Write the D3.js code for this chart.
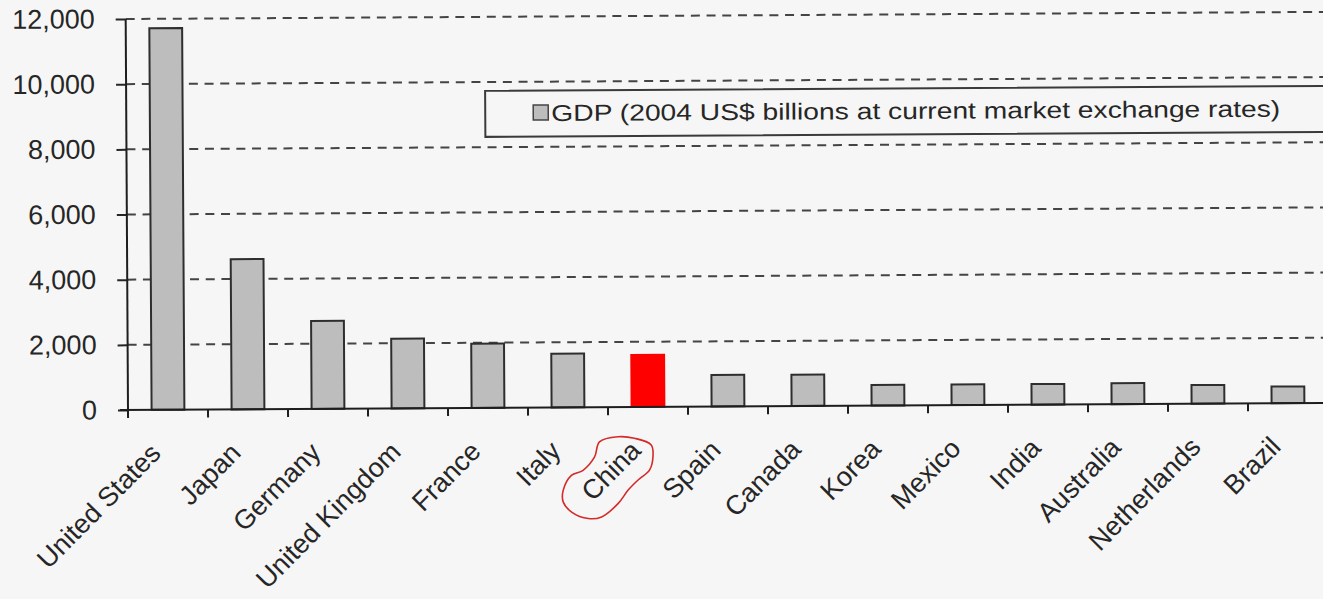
<!DOCTYPE html>
<html>
<head>
<meta charset="utf-8">
<script src="https://cdn.jsdelivr.net/npm/d3@7"></script>
<style>
  html, body { margin: 0; padding: 0; background: #f6f6f6; }
  svg { display: block; }
  text { font-family: "Liberation Sans", Arial, Helvetica, sans-serif; fill: #262626; }
</style>
</head>
<body>
<svg id="chart" width="1323" height="599"></svg>
<script>
// GDP by country, 2004 (US$ billions)
const countries = ["United States", "Japan", "Germany", "United Kingdom", "France", "Italy", "China",
                   "Spain", "Canada", "Korea", "Mexico", "India", "Australia", "Netherlands", "Brazil"];
const gdp = [11710, 4610, 2700, 2140, 1970, 1650, 1600, 970, 960, 630, 635, 630, 640, 570, 510];
const yTicks = [0, 2000, 4000, 6000, 8000, 10000, 12000];
const highlighted = "China";
const legendLabel = "GDP (2004 US$ billions at current market exchange rates)";
// hand-drawn loop around the highlighted label, as offsets from its tick
const loopOffsets = [[-48.7, 34.7], [-30.3, 29.7], [-13.7, 31.3], [3, 38], [4.7, 49.7], [1.3, 63],
                     [-10.3, 73], [-20.3, 83], [-30.3, 96.3], [-47, 109.7], [-60.3, 111.3], [-77, 104.7],
                     [-85.3, 94.7], [-85.3, 83], [-77, 68], [-65.3, 63], [-53.7, 49.7]];

const W = 1323, H = 599;
const plotLeft = 128, plotRight = 1328, baseY = 410, topY = 19;

const svg = d3.select("#chart");
svg.append("rect").attr("width", W).attr("height", H).attr("fill", "#f6f6f6");

// the printed page sits very slightly askew
const g = svg.append("g").attr("transform", `rotate(-0.34, ${plotLeft}, ${baseY})`);

const x = d3.scaleBand().domain(countries).range([plotLeft, plotRight])
  .paddingInner(0.59).paddingOuter(0.295);
const y = d3.scaleLinear().domain([0, 12000]).range([baseY, topY]);
const step = x.step();

// dashed gridlines
g.append("g").selectAll("line")
  .data(yTicks.filter(d => d > 0))
  .join("line")
  .attr("x1", plotLeft).attr("x2", W + 20)
  .attr("y1", d => y(d)).attr("y2", d => y(d))
  .attr("stroke", "#444").attr("stroke-width", 2)
  .attr("stroke-dasharray", "9,6.7");

// y axis
const yAxis = g.append("g").attr("transform", `translate(${plotLeft},0)`)
  .call(d3.axisLeft(y).tickValues(yTicks).tickSize(10).tickPadding(21).tickFormat(d3.format(",")));
yAxis.select(".domain").remove();
yAxis.selectAll(".tick line").attr("stroke", "#262626").attr("stroke-width", 2);
yAxis.selectAll(".tick text").attr("font-size", 27).attr("fill", "#262626")
  .style("font-family", "'Liberation Sans', Arial, sans-serif");
g.append("line").attr("x1", plotLeft).attr("x2", plotLeft)
  .attr("y1", topY).attr("y2", baseY + 8)
  .attr("stroke", "#1e1e1e").attr("stroke-width", 2);

// legend box; its fill hides the gridlines behind it
const legend = g.append("g");
legend.append("rect").attr("x", 487).attr("y", 93).attr("width", 900).attr("height", 46)
  .attr("fill", "#f6f6f6").attr("stroke", "#3a3a3a").attr("stroke-width", 2);
legend.append("rect").attr("x", 535).attr("y", 107.5).attr("width", 15).attr("height", 15)
  .attr("fill", "#bdbdbd").attr("stroke", "#444").attr("stroke-width", 1.5);
legend.append("text").attr("x", 553).attr("y", 123.5)
  .attr("font-size", 23).attr("textLength", 729).attr("lengthAdjust", "spacingAndGlyphs")
  .text(legendLabel);

// bars
const data = countries.map((c, i) => ({ country: c, value: gdp[i] }));
g.append("g").selectAll("rect")
  .data(data)
  .join("rect")
  .attr("x", d => x(d.country))
  .attr("width", x.bandwidth())
  .attr("y", d => y(d.value))
  .attr("height", d => y(0) - y(d.value))
  .attr("fill", d => d.country === highlighted ? "#ff0000" : "#bdbdbd")
  .attr("stroke", d => d.country === highlighted ? "#ff0000" : "#2e2e2e")
  .attr("stroke-width", 2);

// x axis line and category separators
g.append("line").attr("x1", plotLeft - 8).attr("x2", W + 20)
  .attr("y1", baseY).attr("y2", baseY)
  .attr("stroke", "#1e1e1e").attr("stroke-width", 2);
const bounds = countries.map(c => x(c) - (step - x.bandwidth()) / 2).concat([plotRight]);
g.append("g").selectAll("line")
  .data(bounds.slice(1))
  .join("line")
  .attr("x1", d => d).attr("x2", d => d)
  .attr("y1", baseY).attr("y2", baseY + 8)
  .attr("stroke", "#1e1e1e").attr("stroke-width", 2);

// category labels
const xAxis = g.append("g").attr("transform", `translate(0,${baseY})`)
  .call(d3.axisBottom(x).tickSize(0).tickPadding(0));
xAxis.select(".domain").remove();
xAxis.selectAll(".tick text")
  .attr("x", 0).attr("y", 0).attr("dy", 0)
  .attr("text-anchor", "end")
  .attr("transform", "translate(-6,45) rotate(-45)")
  .attr("font-size", 27).attr("fill", "#262626")
  .style("font-family", "'Liberation Sans', Arial, sans-serif");

// red loop around the highlighted label
const cx = x(highlighted) + x.bandwidth() / 2;
g.append("path")
  .attr("d", d3.line().curve(d3.curveCatmullRomClosed)(loopOffsets.map(([dx, dy]) => [cx + dx, baseY + dy])))
  .attr("fill", "none").attr("stroke", "#d42a2a").attr("stroke-width", 1.6);
</script>
</body>
</html>
